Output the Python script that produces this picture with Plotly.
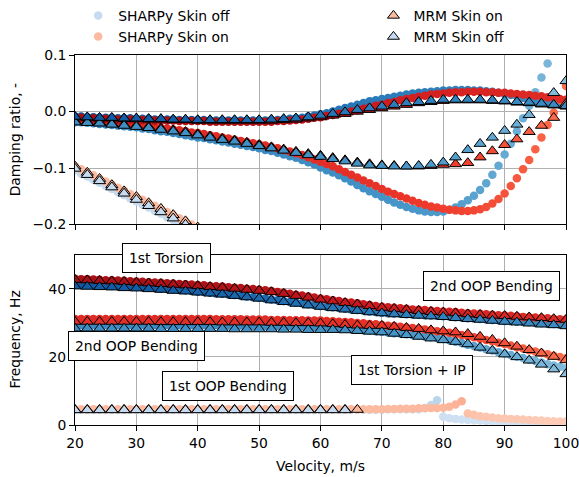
import plotly.graph_objects as go

# ---------------- data ----------------
V = list(range(20, 101))            # SHARPy velocities (1 m/s)
V2 = list(range(20, 101, 2))        # MRM velocities (2 m/s)
V_D1 = list(range(20, 41))          # visible range of 1st OOP damping (SHARPy)
V2_D1 = list(range(20, 41, 2))      # visible range of 1st OOP damping (MRM)
V2_F1_ON = list(range(20, 67, 2))
V2_F1_OFF = list(range(20, 65, 2))

# SHARPy skin off -- damping
sh_off_d1 = [-0.104, -0.110, -0.115, -0.121, -0.126, -0.132, -0.137, -0.143, -0.148, -0.154, -0.159,
             -0.165, -0.170, -0.176, -0.181, -0.187, -0.192, -0.198, -0.203, -0.209, -0.214]
sh_off_d2 = [-0.019, -0.019, -0.020, -0.021, -0.022, -0.023, -0.024, -0.025, -0.026, -0.027,
             -0.028, -0.030, -0.031, -0.033, -0.035, -0.036, -0.038, -0.040, -0.042, -0.044,
             -0.046, -0.047, -0.049, -0.051, -0.053, -0.055, -0.057, -0.059, -0.061, -0.063,
             -0.065, -0.068, -0.070, -0.073, -0.076, -0.079, -0.082, -0.086, -0.090, -0.094,
             -0.099, -0.104, -0.108, -0.113, -0.118, -0.124, -0.130, -0.136, -0.141, -0.146,
             -0.151, -0.156, -0.161, -0.165, -0.169, -0.172, -0.175, -0.177, -0.178, -0.178,
             -0.177, -0.174, -0.170, -0.164, -0.157, -0.149, -0.139, -0.127, -0.112, -0.096,
             -0.076, -0.057, -0.035, -0.012, 0.010, 0.034, 0.060, 0.085, 0.112, 0.140, 0.170]
sh_off_d3 = [-0.009, -0.009, -0.010, -0.010, -0.011, -0.011, -0.011, -0.012, -0.012, -0.012,
             -0.013, -0.013, -0.013, -0.014, -0.014, -0.014, -0.014, -0.015, -0.015, -0.015,
             -0.015, -0.015, -0.016, -0.016, -0.016, -0.016, -0.016, -0.016, -0.016, -0.016,
             -0.016, -0.016, -0.015, -0.015, -0.014, -0.013, -0.012, -0.011, -0.009, -0.007,
             -0.005, -0.003, 0.000, 0.003, 0.006, 0.009, 0.012, 0.015, 0.018, 0.020,
             0.022, 0.024, 0.026, 0.028, 0.030, 0.032, 0.033, 0.034, 0.035, 0.036,
             0.037, 0.037, 0.038, 0.038, 0.038, 0.037, 0.037, 0.036, 0.035, 0.033,
             0.031, 0.029, 0.027, 0.024, 0.022, 0.019, 0.017, 0.015, 0.013, 0.012, 0.011]
# SHARPy skin off -- frequency
sh_off_f1 = [4.4] * 41 + [4.5] * 10 + [4.6] * 6 + [5.0, 5.9, 7.3, 2.4, 2.0, 1.8, 1.6, 1.5, 1.4, 1.3,
             1.2, 1.1, 1.0, 0.9, 0.85, 0.8, 0.75, 0.7, 0.6, 0.55, 0.5, 0.45, 0.4, 0.35]
sh_off_f2 = [29.4] * 24 + [29.3, 29.3, 29.3, 29.3, 29.3, 29.2, 29.2,
             29.2, 29.2, 29.1, 29.1, 29.1, 29.0, 29.0, 29.0, 28.9, 28.9,
             28.8, 28.7, 28.6, 28.4, 28.3, 28.1, 27.9, 27.8, 27.6, 27.4,
             27.2, 27.0, 26.9, 26.7, 26.5, 26.3, 26.0, 25.8, 25.6, 25.3,
             24.9, 24.5, 24.1, 23.6, 23.2, 22.8, 22.3, 21.9, 21.4, 21.0,
             20.6, 20.1, 19.7, 19.2, 18.8, 18.4, 17.9, 17.5, 17.1, 16.7]
sh_off_f3 = [41.3, 41.2, 41.2, 41.1, 41.0, 41.0, 40.9, 40.8, 40.8, 40.7,
             40.6, 40.5, 40.4, 40.3, 40.1, 40.0, 39.9, 39.7, 39.6, 39.4,
             39.2, 39.1, 38.9, 38.7, 38.6, 38.4, 38.2, 38.0, 37.8, 37.6,
             37.4, 37.2, 36.9, 36.7, 36.5, 36.2, 36.0, 35.8, 35.5, 35.3,
             35.0, 34.8, 34.6, 34.4, 34.2, 34.0, 33.8, 33.6, 33.4, 33.2,
             33.0, 32.9, 32.8, 32.7, 32.6, 32.5, 32.4, 32.3, 32.2, 32.1,
             32.0, 31.9, 31.7, 31.6, 31.4, 31.3, 31.2, 31.0, 30.9, 30.8,
             30.6, 30.5, 30.4, 30.3, 30.2, 30.0, 29.9, 29.8, 29.7, 29.5, 29.4]

# SHARPy skin on -- damping
sh_on_d1 = [-0.097, -0.102, -0.108, -0.113, -0.119, -0.124, -0.129, -0.135, -0.140, -0.146, -0.151,
            -0.156, -0.162, -0.167, -0.173, -0.178, -0.183, -0.189, -0.194, -0.200, -0.205]
sh_on_d2 = [-0.014, -0.015, -0.016, -0.016, -0.017, -0.018, -0.019, -0.020, -0.021, -0.022,
            -0.023, -0.025, -0.026, -0.027, -0.029, -0.030, -0.032, -0.033, -0.035, -0.037,
            -0.038, -0.040, -0.042, -0.044, -0.046, -0.048, -0.050, -0.052, -0.054, -0.056,
            -0.058, -0.060, -0.063, -0.065, -0.068, -0.071, -0.074, -0.077, -0.081, -0.085,
            -0.089, -0.093, -0.097, -0.102, -0.107, -0.112, -0.117, -0.122, -0.127, -0.132,
            -0.137, -0.142, -0.146, -0.150, -0.154, -0.158, -0.162, -0.165, -0.168, -0.170,
            -0.172, -0.174, -0.175, -0.176, -0.176, -0.175, -0.173, -0.169, -0.163, -0.155,
            -0.145, -0.132, -0.118, -0.102, -0.086, -0.067, -0.046, -0.024, -0.002, 0.021, 0.045]
sh_on_d3 = [-0.011, -0.011, -0.012, -0.012, -0.013, -0.013, -0.013, -0.014, -0.014, -0.014,
            -0.015, -0.015, -0.015, -0.016, -0.016, -0.016, -0.016, -0.017, -0.017, -0.017,
            -0.017, -0.017, -0.018, -0.018, -0.018, -0.018, -0.018, -0.018, -0.018, -0.018,
            -0.018, -0.018, -0.018, -0.017, -0.017, -0.016, -0.015, -0.014, -0.013, -0.011,
            -0.010, -0.008, -0.006, -0.004, -0.002, 0.000, 0.002, 0.005, 0.007, 0.010,
            0.012, 0.015, 0.017, 0.020, 0.022, 0.024, 0.026, 0.028, 0.030, 0.031,
            0.032, 0.033, 0.034, 0.034, 0.035, 0.035, 0.035, 0.034, 0.034, 0.033,
            0.033, 0.032, 0.031, 0.030, 0.029, 0.028, 0.027, 0.025, 0.024, 0.022, 0.021]
# SHARPy skin on -- frequency
sh_on_f1 = [4.6] * 51 + [4.7, 4.7, 4.8, 4.8, 4.8, 4.9, 4.9, 5.0, 5.0, 5.1,
            5.4, 6.0, 7.0, 3.4, 3.0, 2.6, 2.4, 2.2, 2.0, 1.9,
            1.8, 1.7, 1.6, 1.5, 1.4, 1.3, 1.2, 1.1, 1.05, 1.0]
sh_on_f2 = [31.2] * 23 + [31.1, 31.1, 31.1, 31.1, 31.1, 31.0, 31.0, 31.0,
            31.0, 30.9, 30.9, 30.9, 30.8, 30.8, 30.8, 30.7, 30.7, 30.7,
            30.6, 30.5, 30.4, 30.3, 30.2, 30.0, 29.9, 29.7, 29.6, 29.4,
            29.2, 29.1, 28.9, 28.7, 28.5, 28.3, 28.1, 27.9, 27.6, 27.4,
            27.1, 26.8, 26.5, 26.1, 25.8, 25.4, 25.0, 24.6, 24.2, 23.8,
            23.4, 22.9, 22.5, 22.0, 21.6, 21.2, 20.8, 20.4, 20.0, 19.6]
sh_on_f3 = [43.0, 42.9, 42.9, 42.8, 42.7, 42.6, 42.6, 42.5, 42.4, 42.3,
            42.2, 42.1, 42.0, 41.9, 41.8, 41.7, 41.6, 41.5, 41.4, 41.3,
            41.2, 41.1, 40.9, 40.8, 40.7, 40.5, 40.4, 40.3, 40.1, 40.0,
            39.8, 39.6, 39.4, 39.1, 38.9, 38.6, 38.3, 38.1, 37.8, 37.5,
            37.2, 37.0, 36.7, 36.5, 36.2, 36.0, 35.8, 35.5, 35.3, 35.0,
            34.8, 34.6, 34.5, 34.3, 34.2, 34.0, 33.9, 33.8, 33.6, 33.5,
            33.4, 33.3, 33.2, 33.0, 32.9, 32.8, 32.7, 32.6, 32.4, 32.3,
            32.2, 32.1, 32.0, 31.8, 31.7, 31.6, 31.5, 31.4, 31.2, 31.1, 31.0]

# MRM skin on
mrm_on_d1 = [-0.097, -0.108, -0.119, -0.130, -0.141, -0.151, -0.162, -0.172, -0.183, -0.194, -0.205]
mrm_on_d2 = [-0.017, -0.018, -0.019, -0.021, -0.023, -0.025, -0.027, -0.030, -0.033, -0.036, -0.040,
             -0.044, -0.048, -0.051, -0.055, -0.059, -0.063, -0.067, -0.071, -0.075, -0.078,
             -0.082, -0.086, -0.090, -0.093, -0.095, -0.096, -0.097, -0.097, -0.096, -0.094,
             -0.093, -0.091, -0.081, -0.070, -0.059, -0.049, -0.036, -0.025, -0.011, 0.014]
mrm_on_d3 = [-0.010, -0.011, -0.012, -0.012, -0.013, -0.013, -0.014, -0.014, -0.015, -0.015, -0.016,
             -0.016, -0.016, -0.016, -0.016, -0.016, -0.016, -0.015, -0.014, -0.012, -0.010,
             -0.007, -0.004, 0.000, 0.003, 0.006, 0.009, 0.012, 0.015, 0.017, 0.019,
             0.020, 0.020, 0.020, 0.019, 0.018, 0.016, 0.015, 0.013, 0.011, 0.009]
mrm_on_f1 = [4.5] * 24
mrm_on_f2 = [30.4, 30.4, 30.4, 30.4, 30.4, 30.4, 30.4, 30.3, 30.3, 30.3, 30.3,
             30.3, 30.2, 30.2, 30.2, 30.2, 30.1, 30.1, 30.0, 30.0, 29.9,
             29.7, 29.5, 29.3, 29.2, 29.2, 28.9, 28.6, 28.3, 27.9, 27.6,
             27.3, 26.8, 26.0, 25.1, 24.1, 23.1, 22.1, 21.1, 20.1, 19.1]
mrm_on_f3 = [42.7, 42.6, 42.4, 42.3, 42.1, 41.9, 41.7, 41.5, 41.3, 41.1, 40.9,
             40.6, 40.4, 40.1, 39.8, 39.5, 39.1, 38.6, 38.0, 37.5, 36.9,
             36.4, 35.9, 35.5, 35.0, 34.5, 34.2, 33.9, 33.6, 33.3, 33.1,
             32.9, 32.6, 32.4, 32.2, 32.1, 31.9, 31.7, 31.5, 31.2, 31.0]

# MRM skin off
mrm_off_d1 = [-0.101, -0.112, -0.123, -0.134, -0.145, -0.156, -0.167, -0.178, -0.189, -0.200, -0.211]
mrm_off_d2 = [-0.019, -0.020, -0.021, -0.023, -0.025, -0.027, -0.029, -0.032, -0.035, -0.038, -0.042,
              -0.046, -0.050, -0.053, -0.057, -0.061, -0.065, -0.069, -0.073, -0.077, -0.080,
              -0.084, -0.088, -0.092, -0.095, -0.096, -0.097, -0.097, -0.096, -0.094, -0.090,
              -0.081, -0.068, -0.057, -0.046, -0.034, -0.023, -0.006, 0.013, 0.033, 0.054]
mrm_off_d3 = [-0.009, -0.010, -0.011, -0.011, -0.012, -0.012, -0.013, -0.013, -0.014, -0.014, -0.015,
              -0.015, -0.015, -0.015, -0.015, -0.015, -0.014, -0.013, -0.012, -0.010, -0.007,
              -0.004, -0.001, 0.003, 0.006, 0.009, 0.012, 0.015, 0.017, 0.019, 0.021,
              0.021, 0.021, 0.021, 0.020, 0.019, 0.017, 0.016, 0.014, 0.012, 0.010]
mrm_off_f1 = [4.4] * 23
mrm_off_f2 = [28.4, 28.4, 28.4, 28.4, 28.4, 28.4, 28.4, 28.3, 28.3, 28.3, 28.3,
              28.3, 28.3, 28.2, 28.2, 28.2, 28.2, 28.1, 28.1, 28.0, 28.0,
              28.0, 27.9, 27.7, 27.5, 27.3, 26.9, 26.5, 26.0, 25.5, 25.0,
              24.5, 23.8, 22.8, 21.9, 20.8, 20.0, 19.0, 17.8, 16.4, 15.0]
mrm_off_f3 = [40.8, 40.7, 40.6, 40.5, 40.3, 40.2, 40.0, 39.8, 39.5, 39.3, 39.0,
              38.7, 38.4, 38.0, 37.6, 37.2, 36.7, 36.2, 35.7, 35.2, 34.8,
              34.4, 34.0, 33.6, 33.2, 32.9, 32.6, 32.4, 32.2, 32.0, 31.8,
              31.5, 31.2, 31.0, 30.7, 30.4, 30.2, 29.9, 29.6, 29.4, 29.1]

annotations_txt = ["1st Torsion", "2nd OOP Bending", "2nd OOP Bending", "1st OOP Bending", "1st Torsion + IP"]
annotations_xy = [(34.9, 49.1), (87.9, 40.9), (30.0, 23.2), (45.0, 11.5), (74.9, 16.2)]

# ---------------- style ----------------
BLUES = [[0.0, "#f7fbff"], [0.125, "#deebf7"], [0.25, "#c6dbef"], [0.375, "#9ecae1"],
         [0.5, "#6baed6"], [0.625, "#4292c6"], [0.75, "#2171b5"], [0.875, "#08519c"], [1.0, "#08306b"]]
REDS = [[0.0, "#fff5f0"], [0.125, "#fee0d2"], [0.25, "#fcbba1"], [0.375, "#fc9272"],
        [0.5, "#fb6a4a"], [0.625, "#ef3b2c"], [0.75, "#cb181d"], [0.875, "#a50f15"], [1.0, "#67000d"]]
CMIN, CMAX = -11, 51
FONT = "DejaVu Sans"
FS = 13.9
CSIZE = 8.5
TSIZE = 10.5

fig = go.Figure()


def add(x, y, c, scale, sym, yax, xax):
    m = dict(color=c, colorscale=scale, cmin=CMIN, cmax=CMAX, showscale=False)
    if sym == "circle":
        m.update(symbol="circle", size=CSIZE, line=dict(width=0))
    else:
        m.update(symbol="triangle-up", size=TSIZE, line=dict(width=1, color="black"))
    fig.add_trace(go.Scatter(x=x, y=y, mode="markers", marker=m, showlegend=False,
                             xaxis=xax, yaxis=yax, hoverinfo="skip"))


datasets = [
    (V, [sh_off_d1, sh_off_d2, sh_off_d3], [sh_off_f1, sh_off_f2, sh_off_f3], BLUES, "circle", V_D1, V),
    (V, [sh_on_d1, sh_on_d2, sh_on_d3], [sh_on_f1, sh_on_f2, sh_on_f3], REDS, "circle", V_D1, V),
    (V2, [mrm_on_d1, mrm_on_d2, mrm_on_d3], [mrm_on_f1, mrm_on_f2, mrm_on_f3], REDS, "tri", V2_D1, V2_F1_ON),
    (V2, [mrm_off_d1, mrm_off_d2, mrm_off_d3], [mrm_off_f1, mrm_off_f2, mrm_off_f3], BLUES, "tri", V2_D1, V2_F1_OFF),
]

for vel, ds, fs, scale, sym, vd1, vf1 in datasets:
    add(vd1, ds[0], fs[0][:len(vd1)], scale, sym, "y", "x")
    add(vf1, fs[0], fs[0], scale, sym, "y2", "x2")
    for k in (1, 2):
        add(vel, ds[k], fs[k], scale, sym, "y", "x")
        add(vel, fs[k], fs[k], scale, sym, "y2", "x2")

leg = [("SHARPy Skin off", "circle", "#c6dbef", "legend"),
       ("SHARPy Skin on", "circle", "#fcbba1", "legend"),
       ("MRM Skin on", "triangle-up", "#fcbba1", "legend2"),
       ("MRM Skin off", "triangle-up", "#c6dbef", "legend2")]
for name, sym, col, lg in leg:
    mk = dict(symbol=sym, color=col, size=CSIZE if sym == "circle" else TSIZE,
              line=dict(width=0 if sym == "circle" else 1, color="black"))
    fig.add_trace(go.Scatter(x=[None], y=[None], mode="markers", marker=mk, name=name,
                             legend=lg, showlegend=True))

axis_common = dict(showline=True, linecolor="black", linewidth=1, mirror=True,
                   ticks="outside", ticklen=5, tickcolor="black",
                   showgrid=True, gridcolor="#b0b0b0", gridwidth=1.2, zeroline=False,
                   tickfont=dict(family=FONT, size=FS, color="black"))

fig.update_layout(
    width=579, height=477,
    margin=dict(l=74.5, r=12.5, t=55, b=52, autoexpand=False),
    paper_bgcolor="white", plot_bgcolor="white",
    font=dict(family=FONT, size=FS, color="black"),
    xaxis=dict(domain=[0, 1], range=[20, 100], anchor="y", matches="x2",
               showticklabels=False, tickvals=list(range(20, 101, 10)), **axis_common),
    yaxis=dict(domain=[0.5419, 1], range=[-0.2, 0.1], anchor="x",
               tickvals=[-0.2, -0.1, 0.0, 0.1], tickformat=".1f", **axis_common),
    xaxis2=dict(domain=[0, 1], range=[20, 100], anchor="y2",
                tickvals=list(range(20, 101, 10)), ticklabeloverflow="allow",
                title=dict(text="Velocity, m/s", standoff=11, font=dict(family=FONT, size=FS)),
                **axis_common),
    yaxis2=dict(domain=[0, 0.4595], range=[0, 50], anchor="x2",
                tickvals=[0, 20, 40], **axis_common),
    legend=dict(xref="container", yref="container", x=0.135, y=1.01, xanchor="left", yanchor="top",
                bgcolor="rgba(0,0,0,0)", font=dict(family=FONT, size=FS), tracegroupgap=0),
    legend2=dict(xref="container", yref="container", x=0.645, y=1.01, xanchor="left", yanchor="top",
                 bgcolor="rgba(0,0,0,0)", font=dict(family=FONT, size=FS), tracegroupgap=0),
)

ann = []
for txt, (ax_, ay_) in zip(annotations_txt, annotations_xy):
    ann.append(dict(x=ax_, y=ay_, xref="x2", yref="y2", text=txt, showarrow=False,
                    bgcolor="white", bordercolor="black", borderwidth=1, borderpad=6,
                    font=dict(family=FONT, size=FS, color="black")))
ann.append(dict(x=-0.123, y=0.771, xref="paper", yref="paper", text="Damping ratio, -",
                xanchor="center", yanchor="middle",
                textangle=-90, showarrow=False, font=dict(family=FONT, size=FS, color="black")))
ann.append(dict(x=-0.123, y=0.2297, xref="paper", yref="paper", text="Frequency, Hz",
                xanchor="center", yanchor="middle",
                textangle=-90, showarrow=False, font=dict(family=FONT, size=FS, color="black")))
fig.update_layout(annotations=ann)

fig.write_html("out.html")
